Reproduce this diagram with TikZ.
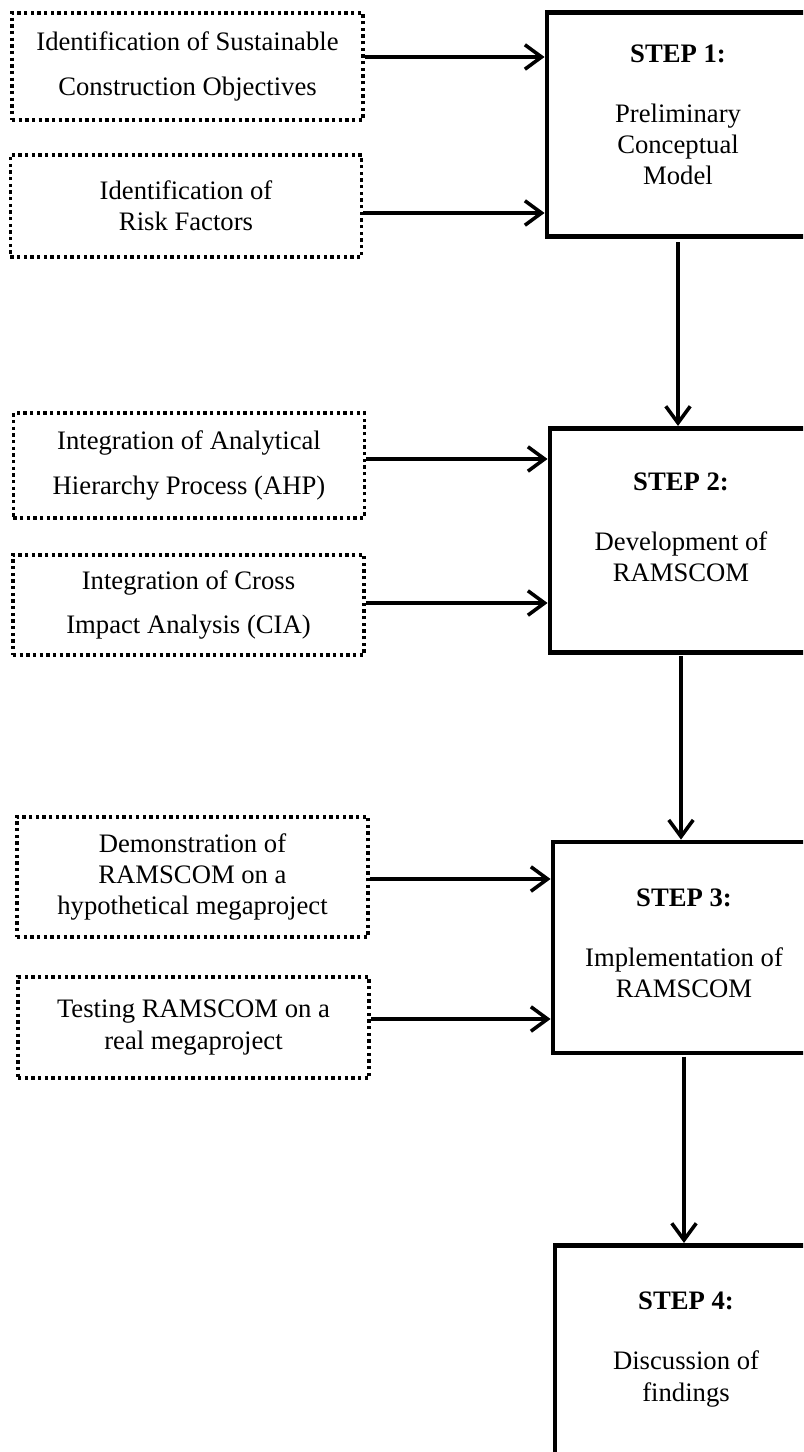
\documentclass[tikz,border=0pt]{standalone}
\usepackage{fontspec}
\setmainfont{Liberation Serif}
\usetikzlibrary{positioning,arrows.meta}

\begin{document}
\begin{tikzpicture}[x=0.45pt,y=-0.45pt,
  sidebox/.style={draw,line width=1.6pt,dash pattern=on 1.5pt off 1.5pt,
    minimum width=158pt,inner sep=0pt,align=center,font=\fontsize{12}{14}\selectfont},
  stepbox/.style={draw,line width=2.1pt,minimum width=118pt,minimum height=101pt},
  steptext/.style={inner sep=0pt,align=center,font=\fontsize{12}{14}\selectfont},
  arr/.style={line width=1.6pt,-{Straight Barb[length=7.5pt,width=11pt]}}]

\path[use as bounding box] (0,0) rectangle (803,1452);
\clip (0,0) rectangle (803,1452);

% inputs on the left
\node[sidebox,minimum height=48pt] (a1) at (187.5,66.5) {Identification of Sustainable\\[6pt] Construction Objectives};
\node[sidebox,minimum height=46pt] (a2) at (186,206) {Identification of\\Risk Factors};

\node[sidebox,minimum height=47pt] (b1) at (189,465.5) {Integration of Analytical\\[6pt] Hierarchy Process (AHP)};
\node[sidebox,minimum height=45pt] (b2) at (188.5,605) {Integration of Cross\\[6pt] Impact Analysis (CIA)};

\node[sidebox,minimum height=54pt] (c1) at (192.5,877) {Demonstration of\\RAMSCOM on a\\hypothetical megaproject};
\node[sidebox,minimum height=45.5pt] (c2) at (193.5,1027.5) {Testing RAMSCOM on a\\real megaproject};

% steps
\node[stepbox] (s1) at (678,124.5) {};
\node[stepbox] (s2) at (681,540.5) {};
\node[stepbox,minimum height=95pt] (s3) at (684,947.5) {};
\node[stepbox] (s4) at (686,1357.5) {};

\node[steptext,below=15.5pt of s1.north] (t1) {\textbf{STEP 1:}\\[13pt] Preliminary\\Conceptual\\Model};
\node[steptext,below=21pt of s2.north] (t2) {\textbf{STEP 2:}\\[13pt] Development of\\RAMSCOM};
\node[steptext,below=22pt of s3.north] (t3) {\textbf{STEP 3:}\\[13pt] Implementation of\\RAMSCOM};
\node[steptext,below=22pt of s4.north] (t4) {\textbf{STEP 4:}\\[13pt] Discussion of\\findings};

% arrows
\draw[arr] (a1.east |- 0,57) -- (s1.west |- 0,57);
\draw[arr] (a2.east |- 0,213) -- (s1.west |- 0,213);
\draw[arr] (b1.east |- 0,459) -- (s2.west |- 0,459);
\draw[arr] (b2.east |- 0,603) -- (s2.west |- 0,603);
\draw[arr] (c1.east |- 0,879) -- (s3.west |- 0,879);
\draw[arr] (c2.east |- 0,1019) -- (s3.west |- 0,1019);

\draw[arr,shorten <=1.5pt] (s1.south) -- (s1.south |- s2.north);
\draw[arr,shorten <=0.5pt] (s2.south) -- (s2.south |- s3.north);
\draw[arr,shorten <=0.5pt] (s3.south) -- (s3.south |- s4.north);

\end{tikzpicture}
\end{document}
